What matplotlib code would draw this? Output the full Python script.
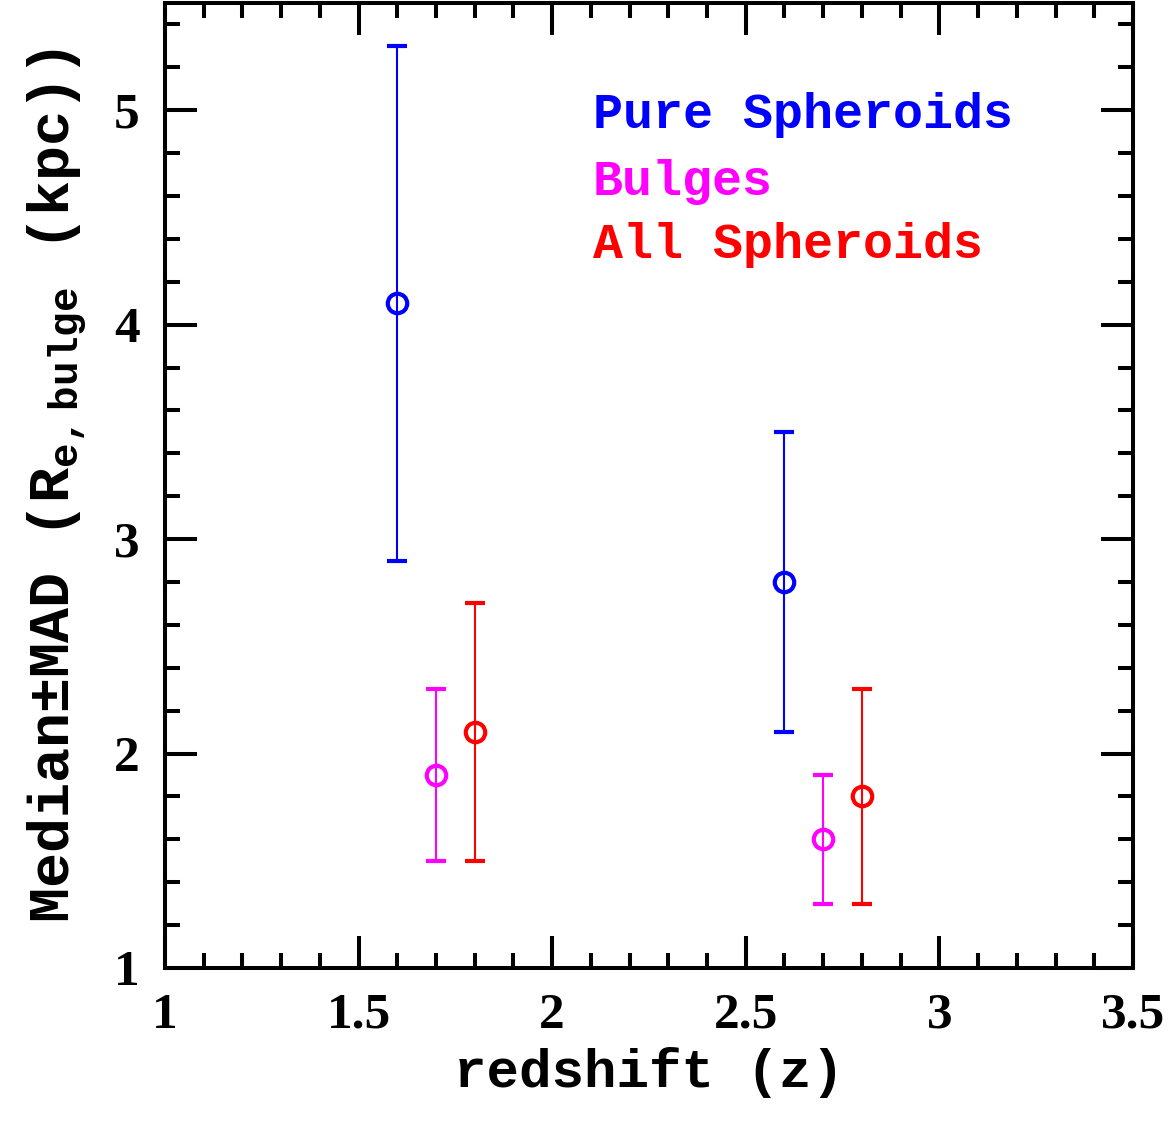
import numpy as np
import matplotlib
matplotlib.use('Agg')
import matplotlib.pyplot as plt
from matplotlib.ticker import MultipleLocator

plt.rcParams['mathtext.fontset'] = 'custom'
plt.rcParams['mathtext.rm'] = 'Liberation Mono:bold'
plt.rcParams['mathtext.bf'] = 'Liberation Mono:bold'

# data: median and MAD bounds
z_pure = [1.6, 2.6]
re_pure = [4.1, 2.8]
lo_pure = [2.9, 2.1]
hi_pure = [5.3, 3.5]

z_bulge = [1.7, 2.7]
re_bulge = [1.9, 1.6]
lo_bulge = [1.5, 1.3]
hi_bulge = [2.3, 1.9]

z_all = [1.8, 2.8]
re_all = [2.1, 1.8]
lo_all = [1.5, 1.3]
hi_all = [2.7, 2.3]

labels = ['Pure Spheroids', 'Bulges', 'All Spheroids']
colors = ['#0000ff', '#ff00ff', '#ff0000']

fig = plt.figure(figsize=(11.71, 11.36), dpi=100)
ax = fig.add_axes([0.1409, 0.1479, 0.8266, 0.8495])

sets = [(z_pure, re_pure, lo_pure, hi_pure),
        (z_bulge, re_bulge, lo_bulge, hi_bulge),
        (z_all, re_all, lo_all, hi_all)]
for (z, r, lo, hi), c in zip(sets, colors):
    r = np.array(r); lo = np.array(lo); hi = np.array(hi)
    ax.errorbar(z, r, yerr=[r - lo, hi - r], fmt='o', mfc='none', mec=c,
                mew=3, ms=14, ecolor=c, elinewidth=1.5, capsize=7, capthick=1.5)

ypos = [0.884, 0.8145, 0.749]
for lab, c, yp in zip(labels, colors, ypos):
    ax.text(0.442, yp, lab, color=c, transform=ax.transAxes, va='center', ha='left',
            fontsize=36, family='Liberation Mono', weight='bold')

ax.set_xlim(1, 3.5)
ax.set_ylim(1, 5.5)
ax.xaxis.set_minor_locator(MultipleLocator(0.1))
ax.yaxis.set_minor_locator(MultipleLocator(0.2))
ax.set_xticks([1, 1.5, 2, 2.5, 3, 3.5])
ax.set_xticklabels(['1', '1.5', '2', '2.5', '3', '3.5'])
ax.set_yticks([1, 2, 3, 4, 5])
ax.set_yticklabels(['1', '2', '3', '4', '5'])

ax.tick_params(which='both', direction='in', top=True, right=True, width=2.9)
ax.tick_params(which='major', length=23, labelsize=37, pad=18)
ax.tick_params(which='minor', length=11)
for lbl in ax.get_xticklabels() + ax.get_yticklabels():
    lbl.set_family('Liberation Serif')
    lbl.set_weight('bold')
for s in ax.spines.values():
    s.set_linewidth(2.9)

ax.set_xlabel('redshift (z)', fontsize=39, family='Liberation Mono', weight='bold', labelpad=6)
ax.set_ylabel(r'Median$\pm$MAD (R$_{\rm e,bulge}$ (kpc))', fontsize=42,
              family='Liberation Mono', weight='bold', labelpad=18)

fig.savefig('out.png', dpi=100)
